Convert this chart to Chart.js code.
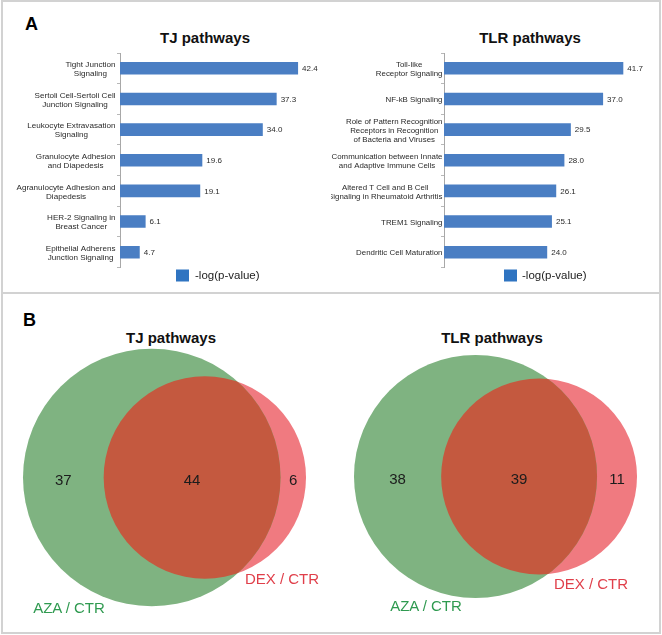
<!DOCTYPE html>
<html><head><meta charset="utf-8">
<script src="https://cdn.jsdelivr.net/npm/chart.js@4.4.1/dist/chart.umd.min.js"></script>
<style>
body{margin:0;background:#fff;}
#fig{position:relative;width:662px;height:635px;overflow:hidden;font-family:"Liberation Sans",Arial,sans-serif;background:#fff;}
canvas{position:absolute;}
.t{position:absolute;white-space:nowrap;line-height:1;}
.ctr{transform:translateX(-50%);}
</style></head><body>
<div id="fig">
  <div style="position:absolute;left:1px;top:0;width:660px;height:634px;box-sizing:border-box;border:2px solid #d2d2d2;"></div>
  <div style="position:absolute;left:1px;top:292px;width:660px;height:2px;background:#d2d2d2;"></div>
  <div class="t" style="left:25px;top:14.5px;font-size:18px;font-weight:bold;color:#000;">A</div>
  <div class="t ctr" style="left:205px;top:30px;font-size:15px;font-weight:bold;color:#111;">TJ pathways</div>
  <div class="t ctr" style="left:530px;top:30px;font-size:15px;font-weight:bold;color:#111;">TLR pathways</div>
  <div class="t" style="left:23px;top:310.5px;font-size:18px;font-weight:bold;color:#000;">B</div>
  <div class="t ctr" style="left:171px;top:330px;font-size:15px;font-weight:bold;color:#111;">TJ pathways</div>
  <div class="t ctr" style="left:492px;top:330px;font-size:15px;font-weight:bold;color:#111;">TLR pathways</div>
  <canvas id="barTJ" width="331" height="250" style="left:0;top:40px;"></canvas>
  <canvas id="barTLR" width="331" height="250" style="left:331px;top:40px;"></canvas>
  <canvas id="vennTJ" width="331" height="337" style="left:0;top:296px;"></canvas>
  <canvas id="vennTLR" width="331" height="337" style="left:331px;top:296px;"></canvas>
  <div class="t ctr" style="left:69px;top:600px;font-size:15px;color:#2f9a50;">AZA / CTR</div>
  <div class="t ctr" style="left:282px;top:571px;font-size:15px;color:#e03f4a;">DEX / CTR</div>
  <div class="t ctr" style="left:426px;top:598px;font-size:15px;color:#2f9a50;">AZA / CTR</div>
  <div class="t ctr" style="left:591px;top:576px;font-size:15px;color:#e03f4a;">DEX / CTR</div>
</div>
<script>
// ---------- DATA ----------
const tjLabels = [
  ["Tight Junction", "Signaling"],
  ["Sertoli Cell-Sertoli Cell", "Junction Signaling"],
  ["Leukocyte Extravasation", "Signaling"],
  ["Granulocyte Adhesion", "and Diapedesis"],
  ["Agranulocyte Adhesion and", "Diapedesis"],
  ["HER-2 Signaling in", "Breast Cancer"],
  ["Epithelial Adherens", "Junction Signaling"]
];
const tjValues = [42.4, 37.3, 34.0, 19.6, 19.1, 6.1, 4.7];

const tlrLabels = [
  ["Toll-like", "Receptor Signaling"],
  ["NF-kB Signaling"],
  ["Role of Pattern Recognition", "Receptors in Recognition", "of Bacteria and Viruses"],
  ["Communication between Innate", "and Adaptive Immune Cells"],
  ["Altered T Cell and B Cell", "Signaling in Rheumatoid Arthritis"],
  ["TREM1 Signaling"],
  ["Dendritic Cell Maturation"]
];
const tlrValues = [41.7, 37.0, 29.5, 28.0, 26.1, 25.1, 24.0];

const seriesLabel = "-log(p-value)";
const xAxisMax = 50;

const vennSetNames = ["AZA / CTR", "DEX / CTR"];
const vennTJCounts = [37, 44, 6];   // AZA only, both, DEX only
const vennTLRCounts = [38, 39, 11];

// ---------- STYLE ----------
const FONT = '"Liberation Sans", Arial, sans-serif';
const BAR_COLOR = '#4a7ec3';
const LEGEND_COLOR = '#2f74c1';
const GREEN = '#7fb381';
const RED = '#f07a80';
const OVERLAP = '#c4593f';

// ---------- BAR CHART PLUGIN ----------
const barExtras = {
  id: 'barExtras',
  afterDraw(chart, args, o) {
    const ctx = chart.ctx;
    const meta = chart.getDatasetMeta(0);
    const ds = chart.data.datasets[0];
    const ys = chart.scales.y;
    const area = chart.chartArea;
    ctx.save();
    ctx.fillStyle = '#2a2a2a';
    ctx.textBaseline = 'middle';
    const LH = 8.9;
    meta.data.forEach((bar, i) => {
      ctx.font = '8px ' + FONT;
      ctx.textAlign = 'left';
      ctx.fillText(ds.data[i].toFixed(1), bar.x + 4, bar.y + 0.5);
      ctx.font = o.labelFont + 'px ' + FONT;
      const lines = chart.data.labels[i];
      const maxW = Math.max(...lines.map(l => ctx.measureText(l).width));
      const cx = area.left - o.labelGap - maxW / 2;
      const y0 = ys.getPixelForValue(i) + 1 - (lines.length - 1) * LH / 2;
      ctx.textAlign = 'center';
      lines.forEach((l, j) => ctx.fillText(l, cx, y0 + j * LH));
    });
    const ly = area.bottom + 2;
    ctx.fillStyle = LEGEND_COLOR;
    ctx.fillRect(o.legendX, ly, 13, 12);
    ctx.fillStyle = '#222';
    ctx.font = '11.5px ' + FONT;
    ctx.textAlign = 'left';
    ctx.fillText(ds.label, o.legendX + o.legendGap, ly + 6.5);
    ctx.restore();
  }
};

function barChart(id, labels, values, o) {
  return new Chart(document.getElementById(id), {
    type: 'bar',
    data: { labels: labels, datasets: [{ label: seriesLabel, data: values, backgroundColor: BAR_COLOR,
      borderWidth: 0, categoryPercentage: 1, barPercentage: 0.41 }] },
    options: {
      indexAxis: 'y', responsive: false, animation: false, events: [],
      layout: { padding: { top: 13, bottom: 22.5, left: 0, right: o.padRight } },
      plugins: { legend: { display: false }, tooltip: { enabled: false },
        barExtras: { labelGap: o.labelGap, labelFont: o.labelFont, legendX: o.legendX, legendGap: o.legendGap } },
      scales: {
        x: { display: false, min: 0, max: xAxisMax },
        y: {
          afterFit: s => { s.width = o.axisWidth; },
          ticks: { display: false },
          grid: { display: true, drawOnChartArea: false, drawTicks: true, tickLength: 3, color: '#b8b8b8', offset: true },
          border: { display: true, color: '#a8a8a8', width: 1 }
        }
      }
    },
    plugins: [barExtras]
  });
}

barChart('barTJ', tjLabels, tjValues, { axisWidth: 120, padRight: 1, labelGap: 4.5, labelFont: 8.1, legendX: 176, legendGap: 19 });
barChart('barTLR', tlrLabels, tlrValues, { axisWidth: 113, padRight: 3, labelGap: 1.5, labelFont: 7.9, legendX: 173, legendGap: 18 });

// ---------- VENN (area-proportional) ----------
function lensArea(r1, r2, d) {
  if (d >= r1 + r2) return 0;
  if (d <= Math.abs(r1 - r2)) return Math.PI * Math.pow(Math.min(r1, r2), 2);
  const a1 = Math.acos((d * d + r1 * r1 - r2 * r2) / (2 * d * r1));
  const a2 = Math.acos((d * d + r2 * r2 - r1 * r1) / (2 * d * r2));
  const k = Math.sqrt((-d + r1 + r2) * (d + r1 - r2) * (d - r1 + r2) * (d + r1 + r2));
  return r1 * r1 * a1 + r2 * r2 * a2 - 0.5 * k;
}
function solveDistance(r1, r2, target) {
  let lo = Math.abs(r1 - r2), hi = r1 + r2;
  for (let i = 0; i < 80; i++) {
    const mid = (lo + hi) / 2;
    if (lensArea(r1, r2, mid) > target) lo = mid; else hi = mid;
  }
  return (lo + hi) / 2;
}

const vennExtras = {
  id: 'vennExtras',
  afterDatasetsDraw(chart, args, o) {
    const ctx = chart.ctx;
    const e1 = chart.getDatasetMeta(0).data[0];
    const e2 = chart.getDatasetMeta(1).data[0];
    const r1 = e1.options.radius, r2 = e2.options.radius;
    ctx.save();
    ctx.beginPath(); ctx.arc(e1.x, e1.y, r1, 0, Math.PI * 2); ctx.clip();
    ctx.beginPath(); ctx.arc(e2.x, e2.y, r2, 0, Math.PI * 2);
    ctx.fillStyle = OVERLAP; ctx.fill();
    ctx.restore();
    const counts = chart.options.plugins.vennExtras.counts;
    const xs = [
      ((e1.x - r1) + (e2.x - r2)) / 2,
      ((e2.x - r2) + (e1.x + r1)) / 2,
      ((e1.x + r1) + (e2.x + r2)) / 2
    ];
    ctx.save();
    ctx.fillStyle = '#1c1c1c';
    ctx.font = '15px ' + FONT;
    ctx.textAlign = 'center';
    ctx.textBaseline = 'middle';
    xs.forEach((x, i) => ctx.fillText(String(counts[i]), x, e1.y + 3.5));
    ctx.restore();
  }
};

function vennChart(id, counts, padTop, padBottom) {
  const r1 = Math.sqrt(counts[0] + counts[1]);
  const r2 = Math.sqrt(counts[2] + counts[1]);
  const d = solveDistance(r1, r2, Math.PI * counts[1]);
  const pxRadius = function (r) {
    return function (ctx) {
      const s = ctx.chart.scales.x;
      const v = Math.abs(s.getPixelForValue(r) - s.getPixelForValue(0));
      return isFinite(v) ? v : 0;
    };
  };
  return new Chart(document.getElementById(id), {
    type: 'scatter',
    data: { datasets: [
      { label: vennSetNames[0], data: [{ x: 0, y: 0 }], pointBackgroundColor: GREEN, backgroundColor: GREEN,
        pointBorderWidth: 0, pointRadius: pxRadius(r1), pointHoverRadius: pxRadius(r1), clip: false },
      { label: vennSetNames[1], data: [{ x: d, y: 0 }], pointBackgroundColor: RED, backgroundColor: RED,
        pointBorderWidth: 0, pointRadius: pxRadius(r2), pointHoverRadius: pxRadius(r2), clip: false }
    ] },
    options: {
      responsive: false, animation: false, events: [],
      layout: { padding: { left: 23, right: 25, top: padTop, bottom: padBottom } },
      plugins: { legend: { display: false }, tooltip: { enabled: false }, vennExtras: { counts: counts } },
      scales: {
        x: { type: 'linear', display: false, min: -r1, max: d + r2 },
        y: { type: 'linear', display: false, min: -1, max: 1 }
      }
    },
    plugins: [vennExtras]
  });
}

vennChart('vennTJ', vennTJCounts, 53, 27);
vennChart('vennTLR', vennTLRCounts, 52, 28);
</script>
</body></html>
